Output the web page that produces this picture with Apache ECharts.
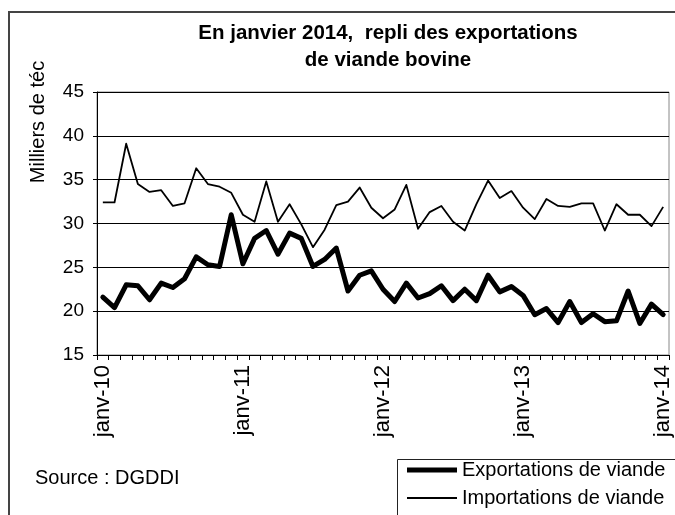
<!DOCTYPE html>
<html>
<head>
<meta charset="utf-8">
<script src="https://cdn.jsdelivr.net/npm/echarts@6/dist/echarts.min.js"></script>
<style>
  html, body { margin: 0; padding: 0; background: #fff; }
  #chart { width: 675px; height: 515px; }
</style>
</head>
<body>
<div id="chart"></div>
<script>
const monthNames = ['janv', 'févr', 'mars', 'avr', 'mai', 'juin', 'juil', 'août', 'sept', 'oct', 'nov', 'déc']
const years = ['10', '11', '12', '13', '14']

// janv-10 .. janv-14, thousands of téc
const exportations = [
  21.6, 20.4, 23.0, 22.9, 21.3, 23.2, 22.7, 23.7, 26.2, 25.3, 25.1, 31.0,
  25.4, 28.3, 29.2, 26.5, 28.9, 28.3, 25.1, 25.9, 27.2, 22.3, 24.1, 24.6,
  22.5, 21.1, 23.2, 21.5, 22.0, 22.9, 21.2, 22.5, 21.2, 24.1, 22.2, 22.8,
  21.8, 19.6, 20.3, 18.7, 21.1, 18.7, 19.7, 18.8, 18.9, 22.3, 18.6, 20.8,
  19.6,
]
const importations = [
  32.4, 32.4, 39.1, 34.5, 33.6, 33.8, 32.0, 32.3, 36.3, 34.5, 34.2, 33.5,
  31.0, 30.2, 34.8, 30.2, 32.2, 29.9, 27.3, 29.3, 32.1, 32.5, 34.1, 31.8,
  30.6, 31.6, 34.4, 29.4, 31.3, 32.0, 30.2, 29.2, 32.2, 34.9, 32.9, 33.7,
  31.8, 30.5, 32.8, 32.0, 31.9, 32.3, 32.3, 29.2, 32.2, 31.0, 31.0, 29.7,
  31.9,
]

const categories = []
years.forEach(function (y, yi) {
  monthNames.forEach(function (m) {
    if (yi < years.length - 1 || m === 'janv') categories.push(m + '-' + y)
  })
})

const font = "'Liberation Sans', Arial, sans-serif"
const chart = echarts.init(document.getElementById('chart'), null, { renderer: 'canvas' })

const option = {
  backgroundColor: '#fff',
  animation: false,
  title: {
    text: 'En janvier 2014,  repli des exportations\nde viande bovine',
    left: 383,
    top: 15,
    textAlign: 'center',
    textStyle: {
      fontFamily: font,
      fontSize: 20.5,
      fontWeight: 'bold',
      color: '#000',
      lineHeight: 27,
    },
  },
  grid: {
    left: 97,
    right: 6,
    top: 92,
    bottom: 160,
    show: true,
    borderColor: '#888',
    borderWidth: 1,
  },
  legend: [
    {
      data: ['Exportations de viande'],
      left: 407,
      top: 460,
      padding: 0,
      icon: 'rect',
      itemWidth: 50,
      itemHeight: 5,
      textStyle: { fontFamily: font, fontSize: 20, color: '#000' },
    },
    {
      data: ['Importations de viande'],
      left: 407,
      top: 488,
      padding: 0,
      icon: 'rect',
      itemWidth: 50,
      itemHeight: 2,
      textStyle: { fontFamily: font, fontSize: 20, color: '#000' },
    },
  ],
  xAxis: {
    type: 'category',
    data: categories,
    boundaryGap: true,
    axisLine: { lineStyle: { color: '#000', width: 1 } },
    axisTick: { show: true, interval: 0, length: 5, lineStyle: { color: '#000' } },
    axisLabel: {
      interval: 11,
      rotate: 90,
      margin: 10,
      fontFamily: font,
      fontSize: 22,
      color: '#000',
    },
    splitLine: { show: false },
  },
  yAxis: {
    type: 'value',
    min: 15,
    max: 45,
    interval: 5,
    axisLine: { show: true, lineStyle: { color: '#000', width: 1 } },
    axisTick: { show: true, length: 4, lineStyle: { color: '#000' } },
    axisLabel: {
      margin: 13,
      fontFamily: font,
      fontSize: 19,
      color: '#000',
    },
    splitLine: { show: true, lineStyle: { color: '#000', width: 1 } },
  },
  series: [
    {
      name: 'Exportations de viande',
      type: 'line',
      data: exportations,
      symbol: 'none',
      color: '#000',
      lineStyle: { color: '#000', width: 5, join: 'round', cap: 'round' },
      z: 3,
    },
    {
      name: 'Importations de viande',
      type: 'line',
      data: importations,
      symbol: 'none',
      color: '#000',
      lineStyle: { color: '#000', width: 1.8, join: 'round' },
      z: 2,
    },
  ],
  graphic: [
    {
      type: 'rect',
      shape: { x: 9, y: 12, width: 700, height: 600 },
      style: { fill: 'none', stroke: '#444', lineWidth: 2 },
      silent: true,
      z: -1,
    },
    {
      type: 'rect',
      shape: { x: 397.5, y: 459.5, width: 400, height: 100 },
      style: { fill: 'none', stroke: '#222', lineWidth: 1 },
      silent: true,
    },
    {
      type: 'text',
      x: 38,
      y: 122,
      rotation: Math.PI / 2,
      style: {
        text: 'Milliers de téc',
        x: 0,
        y: 0,
        textAlign: 'center',
        textVerticalAlign: 'middle',
        font: '20px ' + font,
        fill: '#000',
      },
    },
    {
      type: 'text',
      x: 35,
      y: 478,
      style: {
        text: 'Source : DGDDI',
        textAlign: 'left',
        textVerticalAlign: 'middle',
        font: '20px ' + font,
        fill: '#000',
      },
    },
  ],
}

chart.setOption(option)
</script>
</body>
</html>
